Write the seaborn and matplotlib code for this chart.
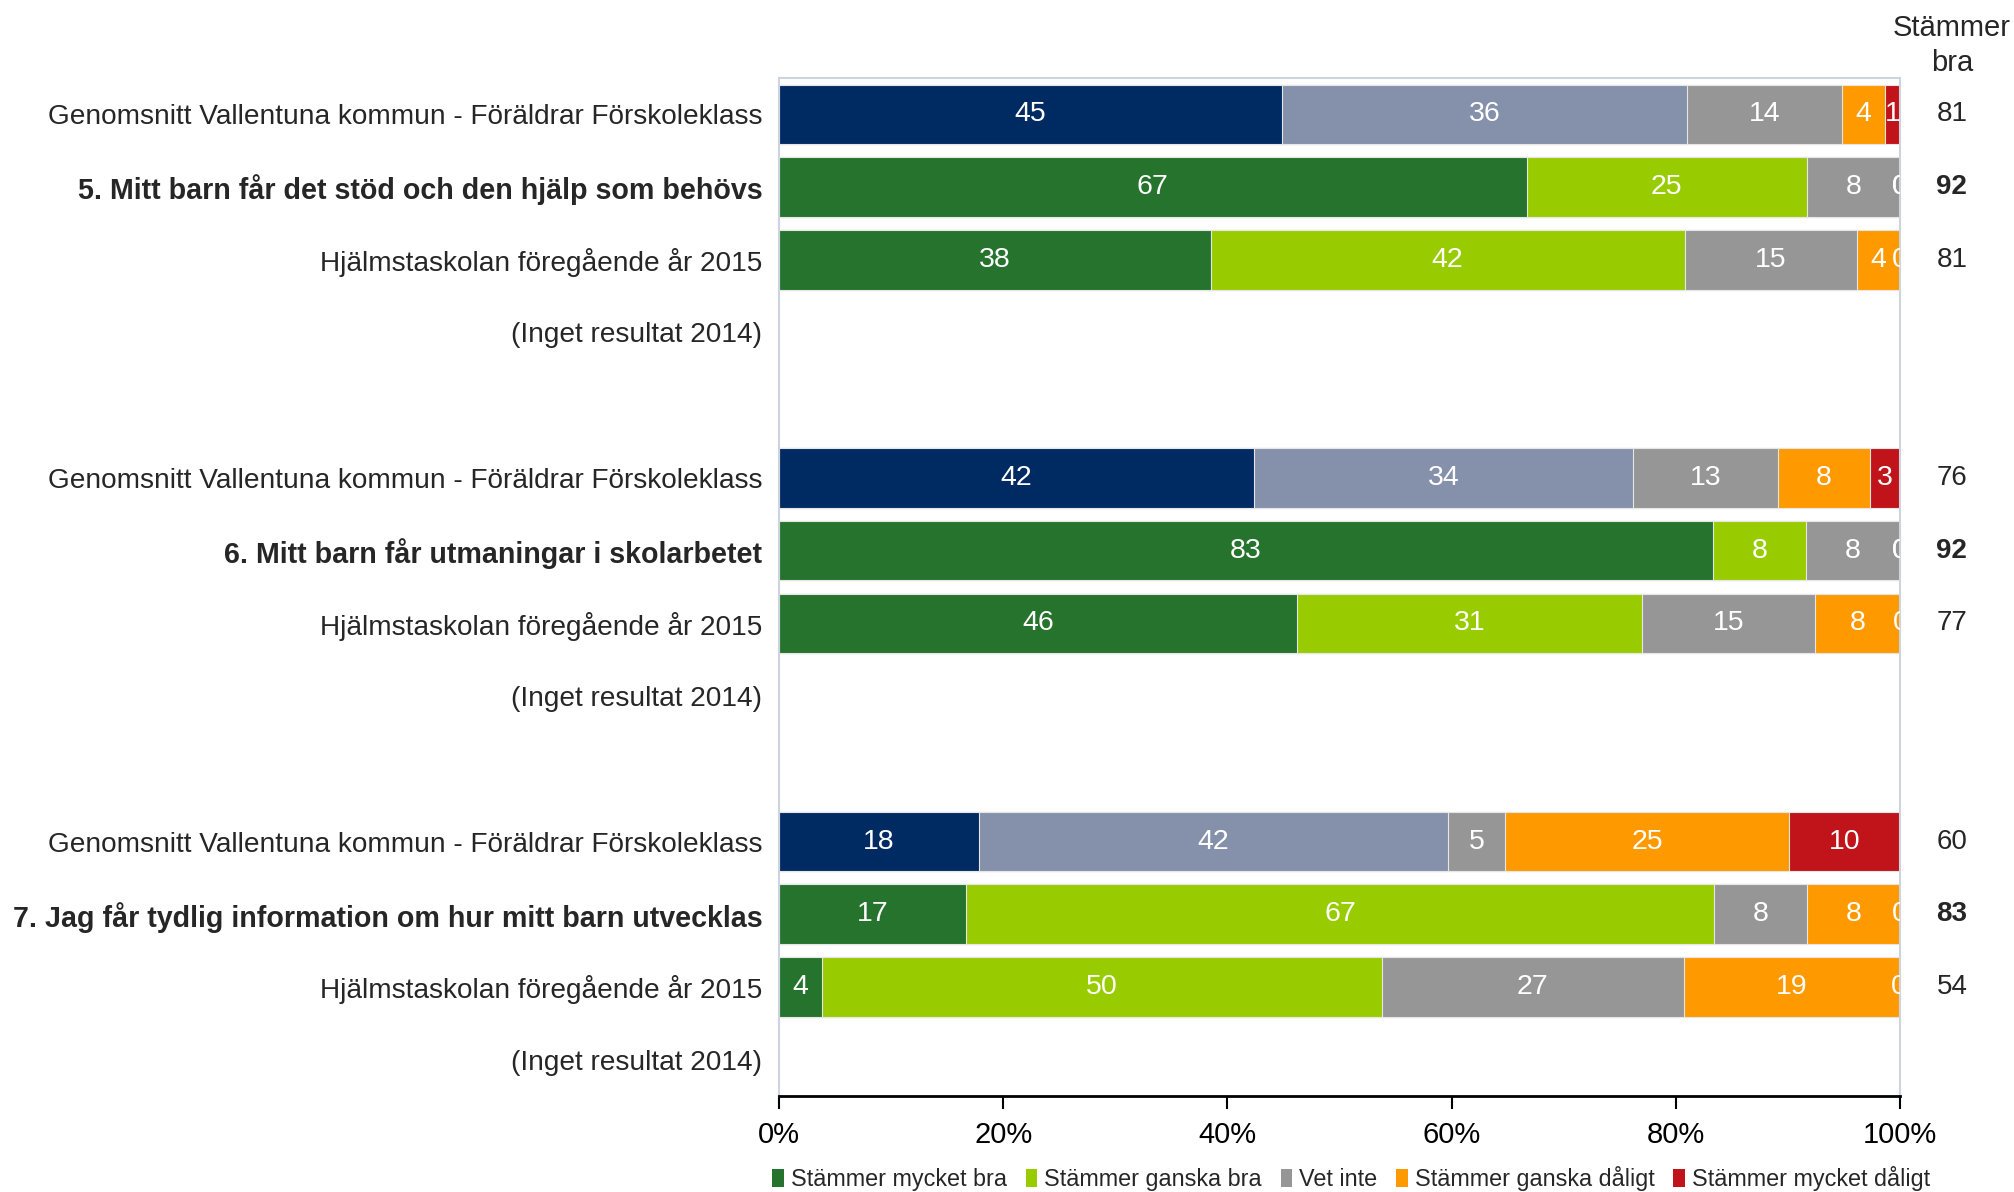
import matplotlib
matplotlib.use("Agg")
import matplotlib.pyplot as plt
from matplotlib import font_manager
from matplotlib.transforms import blended_transform_factory
from matplotlib.patches import Patch
import seaborn as sns
import pandas as pd
import numpy as np

# ---------------- data ----------------
slot_labels = [
    "Genomsnitt Vallentuna kommun - Föräldrar Förskoleklass",
    "5. Mitt barn får det stöd och den hjälp som behövs",
    "Hjälmstaskolan föregående år 2015",
    "(Inget resultat 2014)",
    "",
    "Genomsnitt Vallentuna kommun - Föräldrar Förskoleklass",
    "6. Mitt barn får utmaningar i skolarbetet",
    "Hjälmstaskolan föregående år 2015",
    "(Inget resultat 2014)",
    "",
    "Genomsnitt Vallentuna kommun - Föräldrar Förskoleklass",
    "7. Jag får tydlig information om hur mitt barn utvecklas",
    "Hjälmstaskolan föregående år 2015",
    "(Inget resultat 2014)",
]
bold_slots = [1, 6, 11]
row_kind = ["avg", "main", "prev", None, None,
            "avg", "main", "prev", None, None,
            "avg", "main", "prev", None]

mycket_bra   = [44.9, 66.7, 38.5, None, None, 42.4, 83.3, 46.2, None, None, 17.8, 16.7, 3.8, None]
ganska_bra   = [36.1, 25.0, 42.3, None, None, 33.8, 8.3, 30.8, None, None, 41.9, 66.7, 50.0, None]
vet_inte     = [13.8, 8.3, 15.4, None, None, 12.9, 8.4, 15.4, None, None, 5.1, 8.3, 26.9, None]
ganska_dalig = [3.9, 0.0, 3.8, None, None, 8.2, 0.0, 7.7, None, None, 25.3, 8.3, 19.2, None]
mycket_dalig = [1.3, 0.0, 0.0, None, None, 2.7, 0.0, 0.0, None, None, 9.9, 0.0, 0.0, None]

stammer_bra = [81, 92, 81, None, None, 76, 92, 77, None, None, 60, 83, 54, None]

series_names = ["Stämmer mycket bra", "Stämmer ganska bra", "Vet inte",
                "Stämmer ganska dåligt", "Stämmer mycket dåligt"]
x_ticks = [0, 20, 40, 60, 80, 100]

# ---------------- styles ----------------
school_colors = ["#25732D", "#99CC00", "#969696", "#FF9900", "#C0141A"]
avg_colors = ["#002B62", "#8590AB", "#969696", "#FF9900", "#C0141A"]

sns.set_theme(style="white")
available = {f.name for f in font_manager.fontManager.ttflist}
main_font = "Liberation Sans Narrow" if "Liberation Sans Narrow" in available else "Liberation Sans"
plt.rcParams["font.family"] = [main_font, "DejaVu Sans"]
reg_font = ["Liberation Sans", "DejaVu Sans"]

fig = plt.figure(figsize=(20.15, 11.92), dpi=100)
ax = fig.add_axes([0.3866, 0.0805, 0.9429 - 0.3866, 0.9346 - 0.0805])

slot_ids = [f"s{i}" for i in range(len(slot_labels))]
series = [mycket_bra, ganska_bra, vet_inte, ganska_dalig, mycket_dalig]

records = []
for i, sid in enumerate(slot_ids):
    if row_kind[i] is None:
        continue
    vals = [s[i] for s in series]
    cum = np.cumsum(vals)
    for k in range(5):
        records.append(dict(slot=sid, level=k, cum=cum[k], val=vals[k],
                            start=cum[k] - vals[k], kind=row_kind[i]))
df = pd.DataFrame(records)

# draw cumulative bars from the outermost segment inward
for k in range(4, -1, -1):
    sub = df[df.level == k]
    pal = {r.slot: (avg_colors[k] if r.kind == "avg" else school_colors[k])
           for r in sub.itertuples()}
    sns.barplot(data=sub, x="cum", y="slot", hue="slot", order=slot_ids,
                palette=pal, dodge=False, legend=False, width=0.82,
                orient="h", edgecolor="#e6e6e6", linewidth=0.8,
                saturation=1, ax=ax, errorbar=None)

# in-bar value labels
for r in df.itertuples():
    y = slot_ids.index(r.slot)
    ax.text(r.start + r.val / 2, y, f"{int(round(r.val))}", ha="center",
            va="center", color="white", fontsize=20.5, clip_on=True,
            family=reg_font)

ax.set_xlim(0, 100)
ax.set_ylim(len(slot_ids) - 0.5, -0.5)
ax.set_xticks(x_ticks)
ax.set_xticklabels([f"{t}%" for t in x_ticks], fontsize=21)
ax.set_yticks(range(len(slot_ids)))
ax.set_yticklabels(slot_labels, fontsize=20.2)
for i, lab in enumerate(ax.get_yticklabels()):
    if i in bold_slots:
        lab.set_fontweight("bold")
        lab.set_fontsize(20.6)
ax.set_xlabel("")
ax.set_ylabel("")
ax.tick_params(axis="y", length=0, pad=12)
ax.tick_params(axis="x", length=9, width=1.5, direction="out", pad=9,
               bottom=True, colors="black")
for side in ["left", "top", "right"]:
    ax.spines[side].set_color("#cdd3df")
    ax.spines[side].set_linewidth(1.5)
ax.spines["bottom"].set_color("black")
ax.spines["bottom"].set_linewidth(2)
ax.grid(False)

# right column
tr = blended_transform_factory(fig.transFigure, ax.transData)
for i, v in enumerate(stammer_bra):
    if v is None:
        continue
    ax.text(0.9687, i, f"{v}", transform=tr, ha="center", va="center",
            fontsize=20, fontweight="bold" if i in bold_slots else "normal",
            family=reg_font, clip_on=False)
fig.text(0.9687, 0.962, "Stämmer\nbra", ha="center", va="center", fontsize=21,
         linespacing=1.3, family=reg_font)

# legend
handles = [Patch(facecolor=c, edgecolor="none") for c in school_colors]
fig.legend(handles, series_names, loc="center", bbox_to_anchor=(0.6705, 0.011),
           ncol=5, frameon=False, fontsize=16.8, handlelength=0.5, handleheight=0.8,
           handletextpad=0.3, columnspacing=0.8)

fig.savefig("out.png", dpi=100, facecolor="white")
